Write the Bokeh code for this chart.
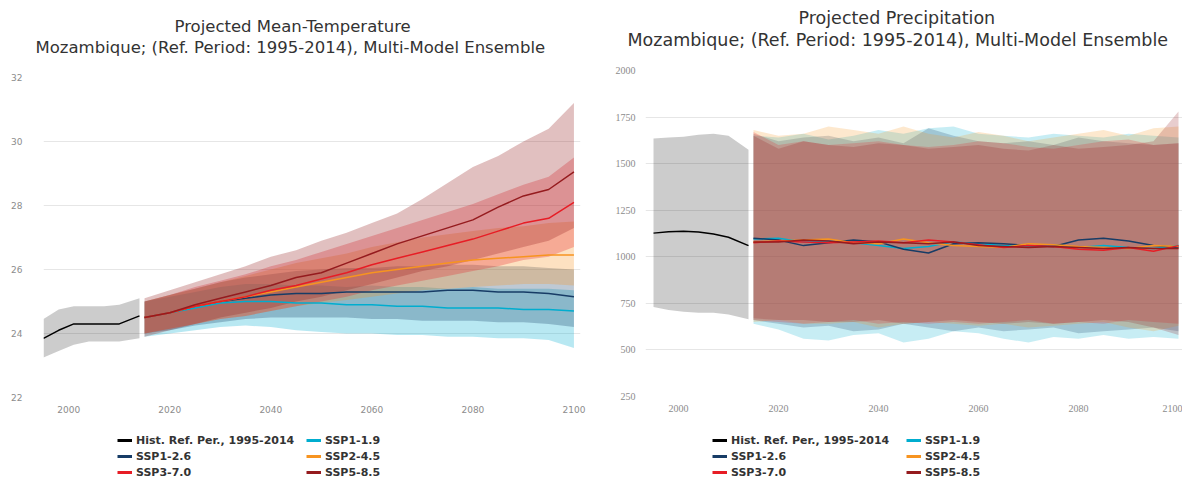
from bokeh.plotting import figure
from bokeh.models import FixedTicker, Legend, LegendItem, Range1d, Title
from bokeh.layouts import row, column
from bokeh.embed import file_html
from bokeh.resources import INLINE

# ---------------- data ----------------
hist_years = [1995, 1998, 2001, 2004, 2007, 2010, 2014]
proj_years = [2015, 2020, 2025, 2030, 2035, 2040, 2045, 2050, 2055,
              2060, 2065, 2070, 2075, 2080, 2085, 2090, 2095, 2100]

labels = ["Hist. Ref. Per., 1995-2014", "SSP1-1.9", "SSP1-2.6",
          "SSP2-4.5", "SSP3-7.0", "SSP5-8.5"]
colors = ["#000000", "#00ADCF", "#173C66", "#F79420", "#E71D25", "#951B1E"]

# Temperature (deg C)
t_hist = [23.85, 24.1, 24.3, 24.3, 24.3, 24.3, 24.55]
t_hist_hi = [24.45, 24.75, 24.85, 24.85, 24.85, 24.9, 25.1]
t_hist_lo = [23.25, 23.45, 23.65, 23.75, 23.75, 23.75, 23.85]

t19 = [24.5, 24.65, 24.8, 24.95, 25.0, 25.0, 24.95, 24.95, 24.9, 24.9, 24.85, 24.85, 24.8, 24.8, 24.8, 24.75, 24.75, 24.7]
t19_hi = [25.0, 25.15, 25.3, 25.45, 25.55, 25.55, 25.5, 25.5, 25.45, 25.5, 25.45, 25.45, 25.4, 25.45, 25.4, 25.4, 25.4, 25.35]
t19_lo = [23.9, 24.0, 24.1, 24.2, 24.25, 24.2, 24.1, 24.05, 24.0, 24.0, 23.95, 23.95, 23.9, 23.9, 23.85, 23.85, 23.8, 23.55]

t26 = [24.5, 24.65, 24.85, 25.0, 25.1, 25.2, 25.25, 25.25, 25.3, 25.3, 25.3, 25.3, 25.35, 25.35, 25.3, 25.3, 25.25, 25.15]
t26_hi = [25.0, 25.2, 25.4, 25.6, 25.75, 25.85, 25.95, 26.0, 26.05, 26.05, 26.1, 26.1, 26.15, 26.15, 26.1, 26.1, 26.05, 26.0]
t26_lo = [24.0, 24.1, 24.25, 24.35, 24.45, 24.5, 24.5, 24.5, 24.5, 24.45, 24.45, 24.4, 24.4, 24.4, 24.35, 24.35, 24.3, 24.2]

t45 = [24.5, 24.65, 24.85, 25.0, 25.15, 25.3, 25.45, 25.6, 25.75, 25.9, 26.0, 26.1, 26.2, 26.3, 26.35, 26.4, 26.45, 26.45]
t45_hi = [25.0, 25.2, 25.4, 25.6, 25.8, 26.0, 26.2, 26.35, 26.5, 26.7, 26.85, 27.0, 27.1, 27.2, 27.3, 27.35, 27.45, 27.5]
t45_lo = [24.0, 24.15, 24.3, 24.45, 24.55, 24.7, 24.85, 24.95, 25.05, 25.15, 25.25, 25.35, 25.4, 25.45, 25.5, 25.55, 25.55, 25.5]

t70 = [24.5, 24.65, 24.85, 25.0, 25.15, 25.35, 25.5, 25.7, 25.9, 26.15, 26.35, 26.55, 26.75, 26.95, 27.2, 27.45, 27.6, 28.1]
t70_hi = [25.0, 25.2, 25.45, 25.65, 25.85, 26.1, 26.3, 26.55, 26.8, 27.05, 27.3, 27.55, 27.8, 28.05, 28.35, 28.65, 28.9, 29.5]
t70_lo = [24.0, 24.15, 24.3, 24.45, 24.55, 24.7, 24.85, 25.0, 25.15, 25.35, 25.5, 25.65, 25.8, 25.95, 26.1, 26.3, 26.4, 26.7]

t85 = [24.5, 24.65, 24.9, 25.1, 25.3, 25.5, 25.75, 25.9, 26.2, 26.5, 26.8, 27.05, 27.3, 27.55, 27.95, 28.3, 28.5, 29.05]
t85_hi = [25.1, 25.35, 25.6, 25.85, 26.1, 26.4, 26.6, 26.9, 27.15, 27.45, 27.75, 28.2, 28.7, 29.2, 29.55, 30.0, 30.4, 31.2]
t85_lo = [23.9, 24.1, 24.3, 24.5, 24.65, 24.8, 25.0, 25.15, 25.35, 25.55, 25.75, 25.95, 26.1, 26.3, 26.5, 26.7, 26.9, 27.3]

# Precipitation (mm)
p_hist = [1127, 1135, 1137, 1133, 1122, 1105, 1060]
p_hist_hi = [1635, 1640, 1645, 1655, 1660, 1650, 1575]
p_hist_lo = [730, 715, 705, 700, 700, 690, 665]

p19 = [1095, 1100, 1080, 1085, 1075, 1060, 1045, 1055, 1080, 1070, 1060, 1055, 1065, 1050, 1060, 1050, 1045, 1060]
p19_hi = [1650, 1640, 1660, 1630, 1650, 1680, 1660, 1690, 1700, 1660, 1650, 1640, 1660, 1650, 1640, 1660, 1650, 1640]
p19_lo = [640, 610, 560, 550, 580, 590, 540, 560, 600, 590, 560, 540, 570, 560, 580, 560, 570, 560]

p26 = [1100, 1090, 1060, 1075, 1090, 1080, 1040, 1020, 1070, 1075, 1070, 1060, 1055, 1090, 1100, 1085, 1060, 1050]
p26_hi = [1660, 1620, 1640, 1650, 1620, 1640, 1610, 1690, 1650, 1620, 1610, 1620, 1600, 1640, 1620, 1610, 1600, 1610]
p26_lo = [660, 640, 620, 630, 600, 610, 640, 620, 600, 620, 600, 610, 620, 590, 600, 610, 620, 600]

p45 = [1080, 1085, 1090, 1095, 1075, 1070, 1095, 1075, 1060, 1055, 1050, 1070, 1065, 1055, 1050, 1045, 1060, 1055]
p45_hi = [1680, 1650, 1660, 1700, 1680, 1660, 1700, 1660, 1640, 1670, 1650, 1620, 1640, 1660, 1680, 1650, 1690, 1700]
p45_lo = [650, 660, 640, 640, 650, 620, 640, 650, 640, 630, 640, 620, 630, 640, 650, 620, 600, 630]

p70 = [1075, 1085, 1080, 1075, 1080, 1085, 1075, 1090, 1080, 1065, 1050, 1060, 1055, 1040, 1035, 1050, 1030, 1060]
p70_hi = [1670, 1600, 1620, 1600, 1610, 1620, 1600, 1590, 1600, 1620, 1610, 1590, 1580, 1600, 1620, 1630, 1600, 1610]
p70_lo = [660, 650, 640, 650, 660, 640, 650, 640, 650, 640, 650, 660, 640, 650, 640, 660, 650, 640]

p85 = [1080, 1080, 1090, 1085, 1070, 1080, 1075, 1070, 1080, 1060, 1055, 1050, 1055, 1050, 1045, 1050, 1045, 1045]
p85_hi = [1650, 1580, 1620, 1600, 1590, 1610, 1600, 1580, 1590, 1600, 1580, 1570, 1600, 1580, 1590, 1600, 1620, 1780]
p85_lo = [670, 660, 660, 650, 650, 660, 640, 650, 660, 650, 640, 650, 640, 650, 660, 650, 620, 580]

x_ticks = [2000, 2020, 2040, 2060, 2080, 2100]
temp_y_ticks = [22, 24, 26, 28, 30, 32]
prec_y_ticks = [250, 500, 750, 1000, 1250, 1500, 1750, 2000]

FONT = "DejaVu Sans"
PLOT_H = 425
LEG_H = 54


def title_kw(text, offset, size):
    return dict(text=text, align="left", offset=offset, text_font=FONT,
                text_font_size=size, text_font_style="normal",
                text_color="#333333", standoff=0)


def build(title1, title2, offs, tsize, xr, yr, yticks, hist, proj, width, borders,
          tick_font, tick_size, y_standoff, alpha):
    bl, br, bt, bb = borders
    p = figure(width=width, height=PLOT_H, x_range=xr, y_range=yr,
               output_backend="svg", toolbar_location=None,
               min_border_left=bl, min_border_right=br,
               min_border_top=bt, min_border_bottom=bb)
    # spacer between frame and the sub-title line
    p.add_layout(Title(text=" ", text_font_size="1px", standoff=18), "above")
    p.add_layout(Title(**title_kw(title2, offs[1], tsize)), "above")
    for k, v in title_kw(title1, offs[0], tsize).items():
        setattr(p.title, k, v)
    p.outline_line_color = None
    p.background_fill_color = "white"
    p.xgrid.grid_line_color = None
    p.ygrid.grid_line_color = "#e6e6e6"
    p.xaxis.ticker = FixedTicker(ticks=x_ticks)
    p.yaxis.ticker = FixedTicker(ticks=yticks)
    for ax in (p.xaxis[0], p.yaxis[0]):
        ax.axis_line_color = None
        ax.major_tick_line_color = None
        ax.minor_tick_line_color = None
        ax.major_tick_out = 0
        ax.major_label_text_font = tick_font
        ax.major_label_text_font_size = tick_size
        ax.major_label_text_color = "#8c8c8c"
    p.yaxis[0].major_label_standoff = y_standoff
    p.xaxis[0].major_label_standoff = 8

    hx, hy, hhi, hlo = hist
    p.varea(x=hx, y1=hlo, y2=hhi, fill_color="#000000", fill_alpha=0.2)
    for (yl, yhi, ylo), c in zip(proj, colors[1:]):
        p.varea(x=proj_years, y1=ylo, y2=yhi, fill_color=c, fill_alpha=alpha)
    p.line(hx, hy, line_color="#000000", line_width=1.5)
    for (yl, yhi, ylo), c in zip(proj, colors[1:]):
        p.line(proj_years, yl, line_color=c, line_width=1.5)
    return p


def build_legend(width, x_off, label_width):
    q = figure(width=width, height=LEG_H, x_range=Range1d(0, 1), y_range=Range1d(0, 1),
               output_backend="svg", toolbar_location=None,
               min_border_left=0, min_border_right=0, min_border_top=0, min_border_bottom=0)
    q.axis.visible = False
    q.grid.grid_line_color = None
    q.outline_line_color = None
    # legend-only renderers, kept outside the visible range
    rs = [q.line([5, 6], [5, 6], line_color=c, line_width=3) for c in colors]
    order = [0, 2, 4, 1, 3, 5]  # column-major fill -> row-major reading
    items = [LegendItem(label=labels[i], renderers=[rs[i]]) for i in order]
    leg = Legend(items=items, ncols=2, location=(x_off, -1),
                 glyph_width=15, glyph_height=16, label_height=16,
                 label_width=label_width, label_standoff=4, spacing=0,
                 padding=0, margin=0, border_line_color=None,
                 background_fill_alpha=0,
                 label_text_font=FONT, label_text_font_size="11px",
                 label_text_font_style="bold", label_text_color="#333333")
    q.add_layout(leg)
    return q


p1 = build("Projected Mean-Temperature",
           "Mozambique; (Ref. Period: 1995-2014), Multi-Model Ensemble",
           (131, -8), "16.5px",
           Range1d(1995, 2101.3), Range1d(22, 32), temp_y_ticks,
           (hist_years, t_hist, t_hist_hi, t_hist_lo),
           [(t19, t19_hi, t19_lo), (t26, t26_hi, t26_lo), (t45, t45_hi, t45_lo),
            (t70, t70_hi, t70_lo), (t85, t85_hi, t85_lo)],
           600, (43, 20, 77, PLOT_H - 397), "DejaVu Sans", "9px", 21, 0.28)

p2 = build("Projected Precipitation",
           "Mozambique; (Ref. Period: 1995-2014), Multi-Model Ensemble",
           (153, -18), "17.5px",
           Range1d(1993.4, 2100.8), Range1d(250, 2000), prec_y_ticks,
           (hist_years, p_hist, p_hist_hi, p_hist_lo),
           [(p19, p19_hi, p19_lo), (p26, p26_hi, p26_lo), (p45, p45_hi, p45_lo),
            (p70, p70_hi, p70_lo), (p85, p85_hi, p85_lo)],
           582, (45, 0, 70, PLOT_H - 396), "Liberation Serif", "10px", 10, 0.22)

l1 = build_legend(600, 74, 170)
l2 = build_legend(582, 67, 175)

layout = row(column(p1, l1), column(p2, l2))
open("out.html", "w").write(file_html(layout, INLINE))
